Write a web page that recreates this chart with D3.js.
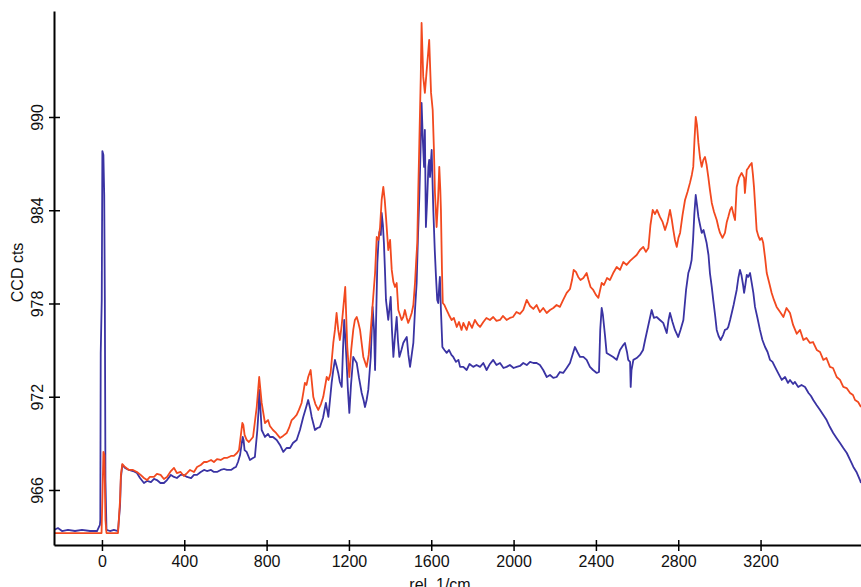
<!DOCTYPE html>
<html>
<head>
	<title>raman spectrum</title>
	<script src="https://cdn.jsdelivr.net/npm/d3@7"></script>
</head>
<style type="text/css">
	body { margin: 0; background-color: #fff; }
	text { font-family: "Liberation Sans", Arial, sans-serif; }
</style>
<body>
</body>
</html>
<script type="text/javascript">
	var width = 861;
	var height = 587;

	var xTicks = [0, 400, 800, 1200, 1600, 2000, 2400, 2800, 3200];
	var yTicks = [966, 972, 978, 984, 990];

	// orange trace
	var redWn = [-233,-155,-83,-15,-2,2,7,12,17,22,49,78,88,92,99,112,131,151,170,188,204,219,233,253,267,285,301,316,335,350,364,382,398,413,428,447,462,480,496,510,530,544,559,577,593,607,627,641,656,666,675,682,687,693,703,714,734,752,764,776,792,807,816,831,846,865,880,898,909,922,933,946,957,970,979,986,994,1002,1014,1027,1037,1051,1064,1075,1092,1101,1111,1124,1132,1140,1148,1156,1165,1173,1182,1192,1202,1211,1221,1229,1238,1245,1254,1270,1286,1296,1306,1318,1327,1335,1343,1351,1359,1367,1374,1380,1391,1400,1408,1416,1424,1432,1440,1448,1456,1464,1472,1481,1488,1497,1505,1513,1521,1527,1532,1537,1542,1549,1553,1557,1561,1569,1578,1584,1590,1595,1599,1607,1613,1618,1626,1633,1639,1644,1647,1652,1656,1664,1675,1686,1699,1710,1724,1735,1747,1756,1772,1783,1798,1812,1827,1837,1853,1868,1885,1901,1917,1934,1948,1966,1982,1997,2014,2031,2047,2064,2080,2096,2112,2128,2144,2161,2177,2193,2209,2225,2241,2258,2274,2284,2292,2303,2314,2325,2339,2355,2364,2374,2387,2400,2412,2428,2439,2454,2468,2484,2501,2517,2533,2549,2566,2582,2598,2614,2630,2643,2655,2665,2676,2687,2697,2711,2724,2736,2748,2760,2769,2776,2784,2793,2801,2809,2821,2833,2845,2857,2866,2873,2879,2885,2891,2898,2906,2914,2922,2930,2938,2946,2954,2963,2974,2987,2996,3003,3015,3027,3036,3043,3052,3060,3069,3076,3084,3095,3108,3120,3124,3133,3140,3149,3157,3163,3168,3175,3181,3189,3197,3206,3213,3222,3230,3241,3254,3265,3278,3295,3311,3326,3343,3358,3376,3392,3408,3423,3440,3455,3473,3489,3505,3520,3537,3552,3570,3586,3602,3618,3635,3649,3659,3674,3688];
	var redCts = [963.23,963.23,963.23,963.23,963.23,965.36,968.45,968.25,964.07,963.23,963.23,963.23,965.36,966.97,967.67,967.48,967.29,967.29,967.16,966.97,966.77,966.64,966.84,966.84,967.03,966.97,966.71,966.84,967.22,967.42,967.09,967.16,966.90,967.09,967.29,967.16,967.48,967.61,967.80,967.80,967.93,967.80,967.99,967.93,968.06,968.06,968.19,968.19,968.38,968.57,969.54,970.31,970.18,969.54,969.22,969.09,969.41,971.34,973.27,971.60,970.31,970.50,970.12,969.86,969.67,969.35,969.48,969.67,969.99,970.50,970.63,970.83,971.15,971.60,972.31,972.89,972.76,973.27,973.72,971.98,971.53,971.15,971.53,971.98,973.27,973.08,973.53,975.46,976.30,977.39,976.30,975.65,976.62,977.78,979.06,975.20,973.27,975.01,976.30,976.94,977.13,976.81,976.30,974.56,973.92,974.69,976.30,978.42,979.96,982.28,982.09,982.86,984.66,985.50,984.66,983.57,981.44,982.09,980.16,979.38,979.06,979.32,977.58,977.26,976.94,977.13,977.58,977.07,976.75,977.07,977.39,977.90,979.32,980.80,981.89,985.31,988.33,992.58,996.05,994.31,992.58,991.55,993.03,993.99,994.96,993.03,991.55,990.45,987.88,985.11,982.92,984.66,986.79,985.31,984.02,980.16,978.03,977.90,977.58,977.26,976.94,977.07,976.49,976.81,976.30,976.75,976.30,976.81,976.43,976.94,976.62,976.49,976.81,977.07,976.94,977.13,976.88,976.94,977.20,976.94,977.07,977.13,977.45,977.33,977.58,978.23,977.84,977.65,977.90,977.45,977.71,977.39,977.58,977.71,977.90,977.78,978.23,978.68,978.93,979.51,980.16,980.03,979.71,979.51,979.64,979.96,979.51,979.06,978.87,978.55,978.36,979.32,979.19,979.64,979.51,979.96,980.35,980.16,980.67,980.48,980.74,980.93,981.12,981.44,981.64,981.32,981.57,983.05,984.02,983.76,984.02,983.57,983.25,982.73,983.25,984.02,983.37,982.73,982.09,981.64,982.22,982.54,983.70,984.66,985.18,985.76,986.27,986.79,988.53,990.00,989.49,988.33,987.36,986.79,987.24,987.43,986.91,986.14,985.31,984.47,983.89,983.37,982.86,982.54,982.22,982.54,983.25,983.57,984.02,984.21,983.70,983.37,985.50,986.08,986.40,986.08,985.11,986.59,986.72,986.91,987.04,986.27,985.50,984.02,982.73,982.35,982.09,982.22,981.89,980.93,979.96,979.38,978.68,978.23,977.78,977.45,977.13,977.71,977.39,976.62,976.05,976.30,975.65,975.78,975.46,975.52,975.01,974.88,974.37,974.49,973.92,973.85,973.27,973.08,972.63,972.56,972.24,972.11,971.79,971.66,971.34];

	// blue trace
	var blueWn = [-233,-214,-194,-165,-131,-97,-58,-24,-10,-8,-6,-1,2,7,11,14,17,22,39,58,78,88,92,99,112,131,151,170,185,204,219,238,253,267,284,301,316,335,350,364,382,398,413,433,447,462,480,496,510,530,544,559,577,593,607,627,641,651,661,671,678,684,688,693,703,719,734,743,755,761,764,769,776,792,807,816,831,849,865,881,897,914,928,946,962,978,991,1002,1011,1019,1035,1047,1059,1074,1088,1100,1108,1116,1124,1132,1140,1148,1156,1165,1171,1177,1183,1189,1195,1202,1210,1221,1229,1238,1249,1262,1271,1278,1286,1294,1306,1315,1322,1327,1332,1338,1344,1348,1355,1359,1365,1370,1375,1380,1391,1403,1409,1416,1424,1432,1438,1445,1455,1464,1472,1481,1489,1497,1505,1513,1521,1529,1535,1542,1548,1553,1559,1565,1569,1574,1580,1586,1590,1594,1599,1602,1606,1610,1617,1623,1629,1634,1639,1642,1647,1654,1664,1675,1686,1698,1707,1720,1732,1740,1756,1772,1786,1804,1820,1837,1853,1869,1885,1901,1917,1934,1951,1966,1982,2000,2015,2031,2047,2064,2080,2096,2112,2128,2144,2161,2177,2193,2209,2225,2241,2258,2274,2286,2298,2310,2323,2339,2355,2371,2386,2404,2415,2421,2428,2434,2444,2452,2468,2484,2501,2517,2533,2541,2551,2557,2566,2569,2573,2582,2598,2614,2629,2639,2655,2671,2682,2695,2711,2727,2744,2753,2760,2772,2784,2800,2811,2825,2838,2849,2857,2865,2872,2878,2885,2891,2898,2906,2914,2923,2938,2947,2954,2963,2970,2979,2987,2996,3006,3018,3027,3037,3043,3052,3060,3069,3076,3084,3092,3100,3107,3115,3120,3126,3133,3140,3149,3157,3165,3173,3185,3197,3209,3222,3234,3246,3258,3270,3285,3303,3319,3333,3343,3358,3367,3383,3399,3416,3433,3445,3456,3472,3489,3505,3521,3537,3553,3569,3586,3602,3619,3635,3651,3666,3683,3688];
	var blueCts = [963.43,963.55,963.36,963.43,963.36,963.43,963.36,963.36,963.75,964.07,974.82,978.23,987.81,987.56,984.98,978.23,966.64,963.43,963.36,963.43,963.36,965.03,966.77,967.61,967.42,967.29,967.22,967.09,966.77,966.45,966.58,966.51,966.71,966.64,966.45,966.45,966.64,966.97,966.84,966.77,966.97,966.97,966.84,966.77,966.97,966.97,967.16,967.29,967.22,967.29,967.16,967.16,967.29,967.35,967.29,967.29,967.42,967.48,967.80,968.25,968.90,969.41,969.22,968.57,968.45,967.93,968.06,968.12,969.86,971.15,972.44,971.47,969.86,969.41,969.61,969.41,969.41,969.22,968.90,968.45,968.70,968.70,969.02,969.22,969.86,970.70,971.28,971.79,971.28,970.70,969.86,969.99,970.05,970.63,971.60,970.70,971.79,972.89,973.72,974.37,973.98,973.53,972.95,972.63,975.01,976.94,975.65,974.17,972.44,970.96,972.76,974.56,974.37,974.17,973.21,972.24,971.79,971.34,971.79,972.44,974.56,977.78,976.30,973.72,976.94,980.61,982.09,982.60,982.41,983.83,983.05,981.89,980.16,978.23,976.94,978.42,976.30,974.56,975.97,977.13,975.65,974.56,975.01,975.46,975.65,975.84,974.69,973.92,974.69,975.46,977.58,979.32,982.09,984.85,987.88,990.90,988.53,986.79,989.17,982.92,984.66,986.79,987.24,986.14,987.24,987.88,985.95,984.02,981.44,979.71,978.23,978.03,979.19,979.71,977.58,975.20,975.01,974.82,975.01,974.69,974.56,974.24,974.37,973.92,973.92,973.72,974.11,973.92,974.04,973.92,974.17,973.72,974.11,974.37,974.04,974.17,973.85,973.92,974.04,973.85,973.92,973.98,974.17,974.04,974.24,974.17,974.17,974.04,973.72,973.27,973.40,973.21,973.27,973.59,973.53,973.85,974.17,974.69,975.20,974.88,974.56,974.56,974.37,973.92,973.72,973.53,973.59,976.30,977.71,977.26,975.97,974.82,974.69,974.56,974.37,975.01,975.33,975.46,974.88,974.37,974.24,972.63,973.72,974.37,974.49,974.69,975.01,975.65,976.62,977.58,977.07,977.13,976.94,976.75,976.10,976.94,977.39,976.81,976.30,975.84,976.30,976.94,978.87,979.96,980.29,980.80,982.09,983.70,984.98,984.34,983.57,983.05,982.54,982.73,981.89,981.12,979.96,979.06,978.23,977.26,976.30,975.91,975.65,975.97,976.30,976.36,976.49,976.94,977.39,977.90,978.36,978.87,979.64,980.16,979.84,979.19,978.68,979.19,979.84,979.71,979.96,979.32,978.68,977.78,977.07,976.30,975.65,975.20,974.88,974.37,974.24,973.92,973.53,973.08,973.27,972.89,973.08,972.82,972.95,972.63,972.76,972.63,972.24,972.05,971.79,971.47,971.15,970.83,970.50,970.05,969.67,969.35,969.02,968.70,968.38,967.93,967.48,967.16,966.64,966.45];

	var plotLeft = 54, plotRight = 861, plotTop = 11, plotBottom = 545;

	var x = d3.scaleLinear().domain([-233, 3688]).range([plotLeft, plotRight]);
	var y = d3.scaleLinear().domain([962.46, 996.82]).range([plotBottom, plotTop]);

	var svg = d3.select("body").append("svg").attr("width", width).attr("height", height);

	svg.append("clipPath").attr("id", "plot")
		.append("rect").attr("x", plotLeft).attr("y", 0).attr("width", plotRight - plotLeft).attr("height", plotBottom);

	var line = d3.line()
		.x(function(d){ return x(d[0]); })
		.y(function(d){ return y(d[1]); });

	var series = [
		{color: "#3a33a3", pts: d3.zip(blueWn, blueCts)},
		{color: "#f2491f", pts: d3.zip(redWn, redCts)}
	];

	svg.append("g").attr("clip-path", "url(#plot)")
		.selectAll("path")
		.data(series)
		.enter()
		.append("path")
		.attr("d", function(d){ return line(d.pts); })
		.attr("fill", "none")
		.attr("stroke", function(d){ return d.color; })
		.attr("stroke-width", 1.8)
		.attr("stroke-linejoin", "round");

	// axes, ticks cross the line
	var xAxis = svg.append("g").attr("transform", "translate(0," + plotBottom + ")")
		.call(d3.axisBottom(x).tickValues(xTicks).tickFormat(d3.format("d")).tickSize(6).tickSizeOuter(0));
	xAxis.selectAll(".tick line").attr("y1", -5).attr("y2", 6).attr("stroke-width", 1.5);
	xAxis.selectAll(".tick text").attr("y", 11).attr("font-size", 16).attr("fill", "#111");
	xAxis.select(".domain").attr("stroke-width", 2);

	var yAxis = svg.append("g").attr("transform", "translate(" + plotLeft + ",0)")
		.call(d3.axisLeft(y).tickValues(yTicks).tickFormat(d3.format("d")).tickSize(5).tickSizeOuter(0));
	yAxis.selectAll(".tick line").attr("x1", -5).attr("x2", 6).attr("stroke-width", 1.5);
	yAxis.selectAll(".tick text")
		.attr("x", 0).attr("dy", 0)
		.attr("text-anchor", "middle")
		.attr("font-size", 16).attr("fill", "#111")
		.attr("transform", "translate(-11,0) rotate(-90)");
	yAxis.select(".domain").attr("stroke-width", 2);

	svg.append("text")
		.attr("transform", "translate(23," + y(980) + ") rotate(-90)")
		.attr("text-anchor", "middle")
		.attr("font-size", 16)
		.attr("fill", "#111")
		.text("CCD cts");

	svg.append("text")
		.attr("x", 440)
		.attr("y", 590)
		.attr("text-anchor", "middle")
		.attr("font-size", 16)
		.attr("fill", "#111")
		.text("rel. 1/cm");
</script>
